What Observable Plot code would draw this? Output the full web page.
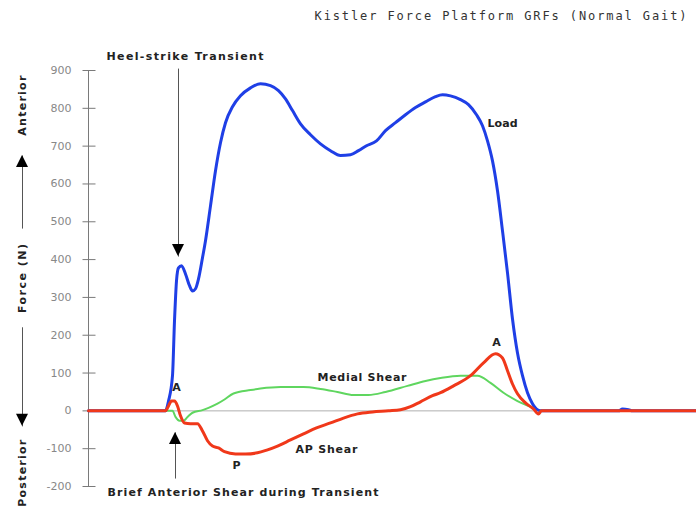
<!DOCTYPE html>
<html>
<head>
<meta charset="utf-8">
<script src="https://cdn.jsdelivr.net/npm/d3@7"></script>
<script src="https://cdn.jsdelivr.net/npm/@observablehq/plot@0.6"></script>
<style>
  html, body { margin: 0; padding: 0; background: #fff; }
  #chart svg { display: block; }
</style>
</head>
<body>
<div id="chart"></div>
<script>
// time in frames (arbitrary units), force in newtons
const load = [[0,0],[20,0],[38.5,0],[40,26],[42,93],[43,238],[44,344],[45,378],[46.5,384],[48.5,362],[50.5,331],[52,317],[53.5,323],[55,349],[57,405],[58.5,450],[61,542],[63.5,635],[66,709],[68.5,762],[72,804],[76,833],[81,854],[86,865],[91,860],[95,847],[98.5,825],[102,794],[106,759],[111,730],[116,706],[121,688],[126,675],[131,677],[135,688],[139,701],[144,714],[148.5,741],[153.5,762],[158.5,783],[163.5,802],[168.5,817],[173.5,831],[177,836],[181,833],[186,823],[190,810],[194,783],[197,754],[199.5,714],[202,661],[204.5,582],[207,476],[209.5,365],[212,243],[214.5,153],[217,93],[219.5,48],[222,19],[224.5,3],[226.5,0],[265,0],[267,5],[270,3],[272,0],[304,0]];
const apShear = [[0,0],[38.5,0],[40,13],[41.5,26],[43,26],[44.5,13],[46,-13],[48,-32],[51,-34],[54.5,-34],[57,-53],[59.5,-79],[62,-93],[65,-98],[68,-108],[73.5,-114],[78.5,-114],[84.5,-111],[89.5,-103],[94.5,-93],[101,-77],[107.5,-61],[114,-45],[121,-32],[127.5,-19],[134.5,-8],[142,-3],[150,0],[156,3],[161,11],[166,24],[172,40],[176,48],[182.5,66],[191,93],[197.5,127],[203.5,151],[207,140],[209.5,106],[212,71],[214.5,45],[218.5,21],[222.5,5],[225,-8],[226.5,0],[304,0]];
const medialShear = [[0,0],[40,0],[42,0],[43.5,-16],[45.5,-26],[47.5,-26],[49.5,-16],[52,-5],[57,2],[60,8],[64.5,19],[68,30],[72.5,46],[81,55],[86,59],[96,63],[107.5,63],[116,58],[124.5,50],[132.5,42],[140,42],[148.5,50],[159.5,66],[168.5,79],[176,87],[186,93],[194.5,93],[201,74],[207.5,48],[214.5,26],[221,11],[224.5,3],[226,0],[304,0]];

const yTicks = [-200,-100,0,100,200,300,400,500,600,700,800,900];

const titleText = "Kistler Force Platform GRFs (Normal Gait)";
// left-aligned annotation labels: [text, x, y]
const startLabels = [
  ["Heel-strike Transient", 9, 937],
  ["Load", 199.5, 760],
  ["Medial Shear", 114.5, 88],
  ["AP Shear", 103.5, -102],
  ["Brief Anterior Shear during Transient", 9.5, -216]
];
// centred point labels
const pointLabels = [["P", 74, -144], ["A", 44, 62], ["A", 204, 181]];
const sideLabels = [["Anterior", -33, 807], ["Force (N)", -33, 350], ["Posterior", -33, -165]];
// arrows: x, tail y, tip y
const arrows = [
  {x: -33, y1: 482, y2: 675},
  {x: -33, y1: 221, y2: -41},
  {x: 45, y1: 905, y2: 408},
  {x: 43.5, y1: -179, y2: -57}
];

const textWidths = new Map([
  [titleText, 372], ["Heel-strike Transient", 157], ["Load", 30], ["Medial Shear", 89],
  ["AP Shear", 62], ["Brief Anterior Shear during Transient", 271],
  ["Anterior", 60], ["Force (N)", 69], ["Posterior", 67]
]);

const toObj = ([t, f]) => ({t, f});

function arrowHeads(list) {
  return (index, scales) => {
    const g = d3.create("svg:g");
    for (const a of list) {
      const cx = scales.x(a.x), cy = scales.y(a.y2);
      const dir = scales.y(a.y2) > scales.y(a.y1) ? 1 : -1;
      g.append("path")
        .attr("d", `M${cx},${cy}L${cx - 6},${cy - dir * 12}L${cx + 6},${cy - dir * 12}Z`)
        .attr("fill", "#000");
    }
    return g.node();
  };
}

const gray = "#7a7a7a";
const boldFont = "DejaVu Sans";
const labelStyle = {fontFamily: boldFont, fontWeight: "bold", fontSize: 11, fill: "#222"};

const svg = Plot.plot({
  width: 696,
  height: 509,
  marginLeft: 88,
  marginRight: 0,
  marginTop: 70,
  marginBottom: 23,
  style: {background: "#fff", overflow: "visible"},
  x: {domain: [0, 304], axis: null},
  y: {domain: [-200, 900]},
  marks: [
    Plot.ruleY([0], {stroke: "#b0b0b0", strokeWidth: 1}),
    Plot.ruleX([0], {y1: -200, y2: 900, stroke: gray, strokeWidth: 1}),
    Plot.link(yTicks, {x1: -3, x2: 3.5, y1: d => d, y2: d => d, stroke: gray, strokeWidth: 1}),
    Plot.axisY({ticks: yTicks, tickSize: 0, tickPadding: 17, tickFormat: d => String(d), label: null,
      fill: "#888", fontSize: 11, fontFamily: "DejaVu Sans"}),
    Plot.line(medialShear.map(toObj), {x: "t", y: "f", stroke: "#5fd65f", strokeWidth: 2, curve: "monotone-x"}),
    Plot.line(load.map(toObj), {x: "t", y: "f", stroke: "#1f3fe6", strokeWidth: 3, curve: "monotone-x"}),
    Plot.line(apShear.map(toObj), {x: "t", y: "f", stroke: "#f0381a", strokeWidth: 3, curve: "monotone-x"}),
    Plot.link(arrows, {x1: "x", x2: "x", y1: "y1", y2: "y2", stroke: "#555", strokeWidth: 1}),
    arrowHeads(arrows),
    Plot.text(startLabels, {x: d => d[1], y: d => d[2], text: d => d[0], textAnchor: "start", ...labelStyle}),
    Plot.text(pointLabels, {x: d => d[1], y: d => d[2], text: d => d[0], textAnchor: "middle", ...labelStyle}),
    Plot.text(sideLabels, {x: d => d[1], y: d => d[2], text: d => d[0], rotate: -90, textAnchor: "middle", ...labelStyle}),
    Plot.text([titleText], {x: 299, y: 1045, text: d => d, textAnchor: "end",
      fontFamily: "DejaVu Sans Mono", fontSize: 12, fill: "#333"})
  ]
});

d3.select(svg).selectAll("text").each(function () {
  const w = textWidths.get(this.textContent);
  if (w) {
    this.setAttribute("textLength", w);
    this.setAttribute("lengthAdjust", "spacing");
  }
});

document.getElementById("chart").appendChild(svg);
</script>
</body>
</html>
